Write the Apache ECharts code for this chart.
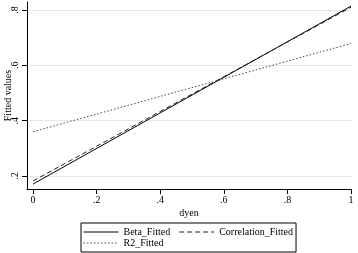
<!DOCTYPE html>
<html>
<head>
<meta charset="utf-8">
<script src="https://cdn.jsdelivr.net/npm/echarts@6/dist/echarts.min.js"></script>
<style>
  html, body { margin: 0; padding: 0; background: #fff; }
  #chart { width: 358px; height: 253px; }
</style>
</head>
<body>
<div id="chart"></div>
<script>
// fitted values at the two ends of dyen
const dyen = [0, 1]
const betaFitted = [0.171, 0.814]
const corrFitted = [0.182, 0.810]
const r2Fitted = [0.360, 0.679]
const xTicks = [0, 0.2, 0.4, 0.6, 0.8, 1]
const yTicks = [0.2, 0.4, 0.6, 0.8]

const chart = echarts.init(document.getElementById('chart'))

// Stata style labels: ".2" instead of "0.2"
const fmt = v => {
  let s = String(Math.round(v * 10) / 10)
  return s.startsWith('0.') ? s.slice(1) : s
}

const font = 'Liberation Serif'

const pairs = arr => dyen.map((x, i) => [x, arr[i]])

const option = {
  backgroundColor: '#fff',
  animation: false,
  textStyle: { fontFamily: font, color: '#000' },
  grid: { left: 27, right: 7, top: 2, bottom: 64, containLabel: false, outerBoundsMode: 'none' },
  legend: {
    left: 81,
    top: 223,
    width: 214,
    padding: [4, 3, 4, 2],
    borderColor: '#000',
    borderWidth: 1,
    itemWidth: 35,
    itemHeight: 11,
    itemGap: 1,
    itemStyle: { opacity: 0 },
    lineStyle: { width: 1 },
    textStyle: { fontFamily: font, fontSize: 10, color: '#000' },
    // a few trailing spaces open the gap between the two first-row entries
    formatter: name => name === 'Beta_Fitted' ? name + '   ' : name,
    data: ['Beta_Fitted', 'Correlation_Fitted', 'R2_Fitted']
  },
  xAxis: {
    type: 'value',
    min: -0.019,
    max: 1,
    name: 'dyen',
    nameLocation: 'middle',
    nameGap: 19,
    nameMoveOverlap: false,
    nameTextStyle: { fontFamily: font, fontSize: 10, color: '#000' },
    axisLine: { show: true, onZero: false, lineStyle: { color: '#000', width: 1 } },
    axisTick: { show: true, length: 5, lineStyle: { color: '#000' }, customValues: xTicks },
    axisLabel: { fontFamily: font, fontSize: 10, color: '#000', margin: 6, customValues: xTicks, formatter: fmt },
    splitLine: { show: false }
  },
  yAxis: {
    type: 'value',
    min: 0.153,
    max: 0.829,
    name: 'Fitted values',
    nameLocation: 'middle',
    nameGap: 14,
    nameMoveOverlap: false,
    nameTextStyle: { fontFamily: font, fontSize: 10, color: '#000' },
    axisLine: { show: true, onZero: false, lineStyle: { color: '#000', width: 1 } },
    axisTick: { show: true, length: 5, lineStyle: { color: '#000' }, customValues: yTicks },
    axisLabel: { fontFamily: font, fontSize: 10, color: '#000', rotate: 90, margin: 7, customValues: yTicks, formatter: fmt },
    splitLine: { show: true, lineStyle: { color: '#e6e6e6', width: 1 } }
  },
  series: [
    {
      name: 'Beta_Fitted',
      type: 'line',
      data: pairs(betaFitted),
      showSymbol: false,
      symbol: 'none',
      lineStyle: { color: '#000', width: 1, type: 'solid' },
      itemStyle: { color: '#000' }
    },
    {
      name: 'Correlation_Fitted',
      type: 'line',
      data: pairs(corrFitted),
      showSymbol: false,
      symbol: 'none',
      lineStyle: { color: '#222', width: 1, type: [5, 3] },
      itemStyle: { color: '#222' }
    },
    {
      name: 'R2_Fitted',
      type: 'line',
      data: pairs(r2Fitted),
      showSymbol: false,
      symbol: 'none',
      lineStyle: { color: '#444', width: 1, type: [1.5, 2] },
      itemStyle: { color: '#444' }
    }
  ]
}

chart.setOption(option)
</script>
</body>
</html>
